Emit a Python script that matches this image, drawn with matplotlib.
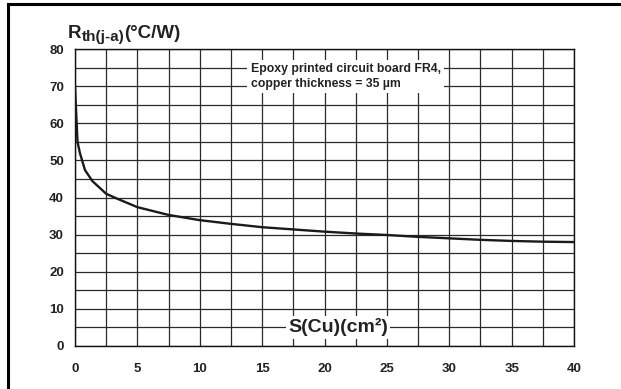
import matplotlib
matplotlib.use("Agg")
import matplotlib.pyplot as plt
from matplotlib.lines import Line2D

plt.rcParams['font.family'] = ['Liberation Sans', 'DejaVu Sans']

# Data
area_cm2 = [0, 0.2, 0.4, 0.8, 1.4, 2.5, 3.3, 5, 7.5, 10, 12.5, 15, 17.5, 20,
            22.5, 25, 27.5, 30, 32.5, 35, 37.5, 40]
rth = [70, 55, 51.9, 47.4, 44.4, 41.0, 39.8, 37.4, 35.3, 33.9, 32.9, 32.0, 31.4,
       30.8, 30.3, 29.9, 29.4, 29.0, 28.6, 28.3, 28.1, 28.0]
x_ticks = [0, 5, 10, 15, 20, 25, 30, 35, 40]
y_ticks = [0, 10, 20, 30, 40, 50, 60, 70, 80]

W, H = 621, 389
fig = plt.figure(figsize=(W / 100, H / 100), dpi=100)
ax = fig.add_axes([75 / W, 1 - 346 / H, (574 - 75) / W, (346 - 49) / H])

ax.set_xlim(0, 40)
ax.set_ylim(0, 80)
ax.set_xticks(x_ticks)
ax.set_yticks(y_ticks)
ax.set_xticks([v + 2.5 for v in x_ticks[:-1]], minor=True)
ax.set_yticks([v + 5 for v in y_ticks[:-1]], minor=True)
ax.tick_params(which='both', length=0)
ax.tick_params(axis='x', pad=12, labelsize=9.5)
ax.tick_params(axis='y', pad=8, labelsize=9.5)
for lbl in ax.get_xticklabels() + ax.get_yticklabels():
    lbl.set_fontweight('bold')
    lbl.set_color('#222222')
ax.grid(True, which='both', color='#2a2a2a', lw=0.9)
ax.set_axisbelow(True)
for s in ax.spines.values():
    s.set_color('#111111')
    s.set_linewidth(1.0)

ax.plot(area_cm2, rth, color='#1a1a1a', lw=1.7, solid_joinstyle='round', zorder=3)

ax.text(14.1, 72.6, 'Epoxy printed circuit board FR4,\ncopper thickness = 35 µm',
        fontsize=8.8, fontweight='bold', color='#222222', va='center', ha='left',
        linespacing=1.3,
        bbox=dict(facecolor='white', edgecolor='none', pad=2.5), zorder=4)
ax.text(17.1, 5, 'S(Cu)(cm²)', fontsize=14, fontweight='bold', color='#222222',
        va='center', ha='left',
        bbox=dict(facecolor='white', edgecolor='none', pad=1.5), zorder=4)

# Title composed of pieces: R, subscript, unit
renderer = fig.canvas.get_renderer()
t1 = fig.text(68 / W, 1 - 38 / H, 'R', fontsize=13.5, fontweight='bold',
              color='#222222', ha='left', va='baseline')
w1 = t1.get_window_extent(renderer).width
t2 = fig.text(68 / W + w1 / W, 1 - 41 / H, 'th(j-a)', fontsize=11,
              fontweight='bold', color='#222222', ha='left', va='baseline')
w2 = t2.get_window_extent(renderer).width
fig.text(68 / W + (w1 + w2) / W, 1 - 38 / H, '(°C/W)', fontsize=13.5,
         fontweight='bold', color='#222222', ha='left', va='baseline')

fig.add_artist(Line2D([8 / W, 1], [1 - 4 / H, 1 - 4 / H], color='black', lw=2.2,
                      transform=fig.transFigure))
fig.add_artist(Line2D([8 / W, 8 / W], [0, 1 - 4 / H], color='black', lw=2.2,
                      transform=fig.transFigure))

fig.savefig('out.png', dpi=100)
